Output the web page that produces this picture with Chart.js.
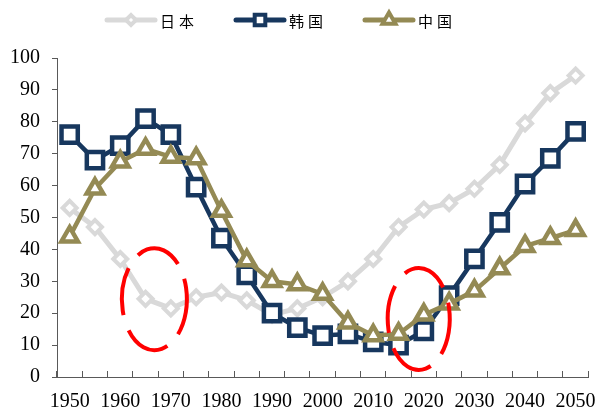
<!DOCTYPE html>
<html>
<head>
<meta charset="utf-8">
<script src="https://cdn.jsdelivr.net/npm/chart.js@4.4.0/dist/chart.umd.min.js"></script>
<style>
  html, body { margin: 0; padding: 0; background: #fff; }
</style>
</head>
<body>
<canvas id="myChart" width="615" height="414"></canvas>
<script>
// data
const years = ["1950", "1955", "1960", "1965", "1970", "1975", "1980", "1985", "1990", "1995", "2000",
               "2005", "2010", "2015", "2020", "2025", "2030", "2035", "2040", "2045", "2050"];
const japan = [53, 47, 37, 24.5, 21.5, 25, 26.5, 24, 19.5, 21.5, 25, 30, 37, 47, 52.5, 54.5, 59, 66.5, 79.5, 89, 94.5];
const korea = [76, 68, 72.5, 81, 76, 59.5, 43.5, 32, 20, 15.5, 13, 13.5, 11, 10, 14.5, 25.5, 37, 48.5, 60.5, 68.5, 77];
const china = [44, 59, 67.5, 71.5, 69, 68.5, 52, 36.5, 30, 29, 26, 17, 13, 13.5, 19.5, 23, 27, 34, 41, 43.5, 46];
const seriesNames = ["日本", "韩国", "中国"];

const axisColor = "#595959";
const serif = "'Liberation Serif', 'Times New Roman', serif";

function drawMarker(ctx, style, x, y, r, bw, color) {
  ctx.save();
  ctx.beginPath();
  if (style === "rect") {
    const s = r * Math.SQRT1_2;
    ctx.rect(x - s, y - s, 2 * s, 2 * s);
  } else if (style === "rectRot") {
    ctx.moveTo(x - r, y); ctx.lineTo(x, y - r); ctx.lineTo(x + r, y); ctx.lineTo(x, y + r);
    ctx.closePath();
  } else {
    ctx.moveTo(x, y - r);
    ctx.lineTo(x + r * 0.866, y + r * 0.5);
    ctx.lineTo(x - r * 0.866, y + r * 0.5);
    ctx.closePath();
  }
  ctx.fillStyle = "#fff";
  ctx.fill();
  ctx.lineWidth = bw;
  ctx.strokeStyle = color;
  ctx.stroke();
  ctx.restore();
}

// legend: line + marker, drawn by hand
const legendPlugin = {
  id: "lineLegend",
  afterDraw(chart) {
    const ctx = chart.ctx;
    const sizes = [5, 7.5, 7.5];
    chart.data.datasets.forEach((ds, i) => {
      const x = 107 + i * 129, y = 20;
      ctx.save();
      ctx.strokeStyle = ds.borderColor;
      ctx.lineWidth = 5;
      ctx.lineCap = "round";
      ctx.beginPath();
      ctx.moveTo(x, y); ctx.lineTo(x + 48, y);
      ctx.stroke();
      drawMarker(ctx, ds.pointStyle, x + 24, y, sizes[i], 4, ds.borderColor);
      ctx.fillStyle = "#000";
      ctx.font = "15px 'Noto Sans CJK SC'";
      ctx.letterSpacing = "4px";
      ctx.textBaseline = "middle";
      ctx.fillText(ds.label, x + 53, y + 1);
      ctx.restore();
    });
  }
};

// the two red dashed circles
const ellipsePlugin = {
  id: "redEllipses",
  afterDatasetsDraw(chart) {
    const ctx = chart.ctx;
    const xs = chart.scales.x, ys = chart.scales.y;
    const marks = [
      { i: 3.35, v: 24.4, rx: 32.5, ry: 51 },
      { i: 13.8, v: 18.2, rx: 31, ry: 51 }
    ];
    ctx.save();
    ctx.strokeStyle = "#FF0000";
    ctx.lineWidth = 4;
    ctx.setLineDash([48, 16]);
    marks.forEach(m => {
      const cx = xs.getPixelForValue(m.i), cy = ys.getPixelForValue(m.v);
      const a0 = -13 * Math.PI / 180;
      ctx.beginPath();
      ctx.ellipse(cx, cy, m.rx, m.ry, 0, a0, a0 + Math.PI * 2);
      ctx.stroke();
    });
    ctx.restore();
  }
};

const data = {
  labels: years,
  datasets: [
    {
      label: seriesNames[0],
      data: japan,
      borderColor: "#D9D9D9",
      borderWidth: 5,
      pointStyle: "rectRot",
      pointRadius: 7,
      pointBorderWidth: 4,
      pointBackgroundColor: "#fff",
      order: 3
    },
    {
      label: seriesNames[1],
      data: korea,
      borderColor: "#17375E",
      borderWidth: 4.5,
      pointStyle: "rect",
      pointRadius: 11.5,
      pointBorderWidth: 4.5,
      pointBackgroundColor: "#fff",
      order: 2
    },
    {
      label: seriesNames[2],
      data: china,
      borderColor: "#948A54",
      borderWidth: 4.5,
      pointStyle: "triangle",
      pointRadius: 9.5,
      pointBorderWidth: 4.5,
      pointBackgroundColor: "#fff",
      order: 1
    }
  ]
};

const config = {
  type: "line",
  data: data,
  options: {
    responsive: false,
    animation: false,
    clip: false,
    layout: { padding: { left: 0, right: 9, top: 58, bottom: 0 } },
    elements: {
      line: { tension: 0, borderJoinStyle: "round", borderCapStyle: "round" },
      point: { hoverRadius: 0 }
    },
    plugins: {
      legend: { display: false },
      tooltip: { enabled: false }
    },
    scales: {
      x: {
        type: "category",
        offset: true,
        grid: { offset: true, drawOnChartArea: false, drawTicks: true, tickLength: -6, color: axisColor },
        border: { color: axisColor, width: 1 },
        ticks: {
          autoSkip: false,
          maxRotation: 0,
          padding: 19,
          color: "#000",
          font: { family: serif, size: 20 },
          callback: (v, i) => (i % 2 === 0 ? years[i] : "")
        },
        afterFit: s => { s.height = 37; }
      },
      y: {
        min: 0,
        max: 100,
        grid: { drawOnChartArea: false, drawTicks: true, tickLength: 5, color: axisColor },
        border: { color: axisColor, width: 1 },
        ticks: {
          stepSize: 10,
          padding: 12,
          color: "#000",
          font: { family: serif, size: 20 }
        },
        afterFit: s => { s.width = 57; }
      }
    }
  },
  plugins: [legendPlugin, ellipsePlugin]
};

const myChart = new Chart(document.getElementById("myChart"), config);
</script>
</body>
</html>
